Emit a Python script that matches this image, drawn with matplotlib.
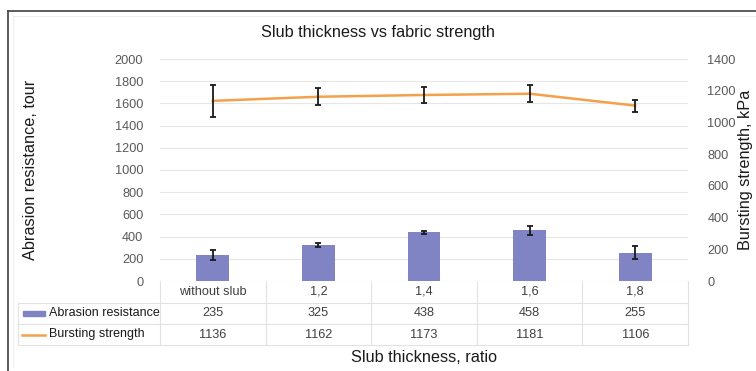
import matplotlib
matplotlib.use("Agg")
import matplotlib.pyplot as plt
from matplotlib.patches import Rectangle
from matplotlib.lines import Line2D

plt.rcParams['font.family'] = ['Liberation Sans', 'DejaVu Sans']

categories = ["without slub", "1,2", "1,4", "1,6", "1,8"]
abrasion = [235, 325, 438, 458, 255]
abrasion_err = [45, 20, 15, 40, 60]
bursting = [1136, 1162, 1173, 1181, 1106]
bursting_err = [100, 52, 52, 52, 38]
left_ticks = list(range(0, 2001, 200))
right_ticks = list(range(0, 1401, 200))

W, H = 756, 371
fig = plt.figure(figsize=(W / 100, H / 100), dpi=100)
fig.patch.set_facecolor("white")

# outer frame (dark on left/top)
fig.add_artist(Line2D([8 / W, 8 / W], [0, 1 - 11 / H], transform=fig.transFigure, color="#404040", lw=1.2))
fig.add_artist(Line2D([8 / W, 1], [1 - 11 / H, 1 - 11 / H], transform=fig.transFigure, color="#404040", lw=1.2))
fig.add_artist(Line2D([13 / W, 1], [1 - 16 / H, 1 - 16 / H], transform=fig.transFigure, color="#eeeeee", lw=0.8))
fig.add_artist(Line2D([13 / W, 13 / W], [4 / H, 1 - 16 / H], transform=fig.transFigure, color="#eeeeee", lw=0.8))

x0, x1, yt, yb = 160, 688, 59, 281
ax = fig.add_axes([x0 / W, 1 - yb / H, (x1 - x0) / W, (yb - yt) / H])
ax2 = ax.twinx()
ax.set_zorder(1)
ax2.set_zorder(2)
ax.patch.set_visible(False)
ax2.patch.set_visible(False)

xs = list(range(len(categories)))
bar_color = "#8084c4"
line_color = "#f5a04a"

ax.bar(xs, abrasion, width=0.31, color=bar_color, zorder=2)
ax.errorbar(xs, abrasion, yerr=abrasion_err, fmt="none", ecolor="#1a1a1a", elinewidth=1.3, capsize=2.5, capthick=1.3, zorder=3)
ax2.plot(xs, bursting, color=line_color, lw=1.8, zorder=2)
ax2.errorbar(xs, bursting, yerr=bursting_err, fmt="none", ecolor="#1a1a1a", elinewidth=1.3, capsize=2.5, capthick=1.3, zorder=3)

ax.set_xlim(-0.5, len(categories) - 0.5)
ax.set_ylim(0, 2000)
ax2.set_ylim(0, 1400)
ax.set_yticks(left_ticks)
ax2.set_yticks(right_ticks)
ax.set_xticks([])
for a in (ax, ax2):
    for s in a.spines.values():
        s.set_visible(False)
ax.tick_params(axis="y", length=0, pad=12, labelsize=9.2, labelcolor="#595959")
ax2.tick_params(axis="y", length=0, pad=14, labelsize=9.2, labelcolor="#595959")
ax.yaxis.grid(True, color="#e6e6e6", lw=0.8, zorder=0)
ax.set_axisbelow(True)

ax.set_ylabel("Abrasion resistance, tour", fontsize=11.7, color="#1a1a1a")
ax.yaxis.set_label_coords((38 - x0) / (x1 - x0), 0.5)
ax2.set_ylabel("Bursting strength, kPa", fontsize=11.7, color="#1a1a1a")
ax2.yaxis.set_label_coords((738 - x0) / (x1 - x0), 0.5)

fig.text(0.5, 1 - 33 / H, "Slub thickness vs fabric strength", ha="center", va="center", fontsize=11.7, color="#1a1a1a")
fig.text((x0 + x1) / 2 / W, 1 - 357 / H, "Slub thickness, ratio", ha="center", va="center", fontsize=11.7, color="#1a1a1a")

# table
def ay(py):
    return (yb - py) / (yb - yt)

def dx(px):
    return -0.5 + (px - x0) / ((x1 - x0) / len(categories))

tr = ax.get_xaxis_transform()
gc = "#e2e2e2"
n = len(categories)
for py in (303, 324, 345):
    ax.plot([dx(18), n - 0.5], [ay(py), ay(py)], transform=tr, color=gc, lw=0.8, clip_on=False)
for k in range(n + 1):
    ax.plot([k - 0.5, k - 0.5], [ay(281), ay(345)], transform=tr, color=gc, lw=0.8, clip_on=False)
ax.plot([dx(18), dx(18)], [ay(303), ay(345)], transform=tr, color=gc, lw=0.8, clip_on=False)

rows = [(292, categories), (313.5, [str(v) for v in abrasion]), (334.5, [str(v) for v in bursting])]
for py, vals in rows:
    for i, v in enumerate(vals):
        ax.text(i, ay(py), v, transform=tr, ha="center", va="center", fontsize=9.2, color="#404040", clip_on=False)

ax.add_patch(Rectangle((dx(23), ay(316)), dx(45) - dx(23), ay(311) - ay(316), transform=tr, color=bar_color, clip_on=False))
ax.plot([dx(22), dx(45)], [ay(335), ay(335)], transform=tr, color=line_color, lw=1.8, clip_on=False)
ax.text(dx(49), ay(313), "Abrasion resistance", transform=tr, ha="left", va="center", fontsize=9.0, color="#1a1a1a", clip_on=False)
ax.text(dx(49), ay(333.5), "Bursting strength", transform=tr, ha="left", va="center", fontsize=9.0, color="#1a1a1a", clip_on=False)

fig.savefig("out.png", dpi=100)
